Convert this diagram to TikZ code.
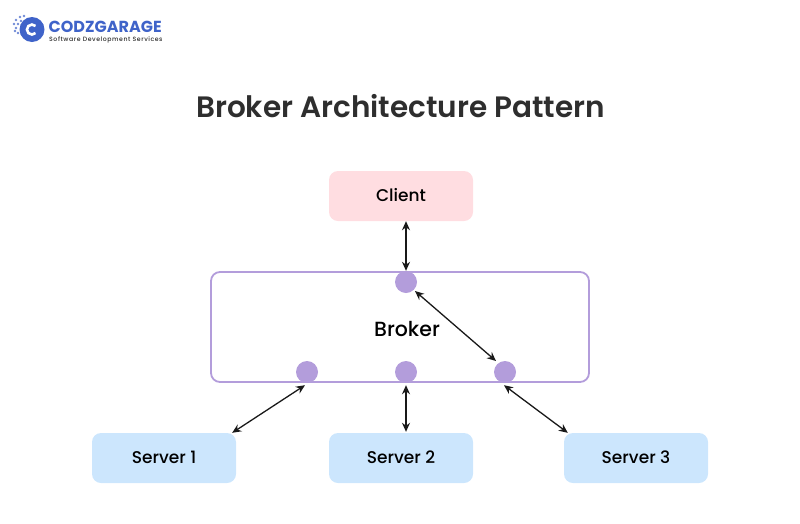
\documentclass[tikz,border=0pt]{standalone}
\usepackage{fontspec}
\setmainfont{Poppins}
\newfontfamily\labelfont{Poppins Medium}
\newfontfamily\titlefont{Poppins SemiBold}
\newfontfamily\tagfont[LetterSpace=9]{Poppins Medium}
\usetikzlibrary{arrows.meta}
\definecolor{logoblue}{HTML}{3F63C9}
\definecolor{inkgrey}{HTML}{2E2E2E}
\definecolor{clientpink}{HTML}{FFDDE1}
\definecolor{serverblue}{HTML}{CCE6FD}
\definecolor{brokerpurple}{HTML}{B39DDB}
\begin{document}
\begin{tikzpicture}[x=1pt, y=-1pt, node distance=99pt,
    box/.style = {rounded corners=9pt, minimum width=144pt, minimum height=50pt, inner sep=0pt, text height=12pt, text depth=2pt, font=\fontsize{17}{18}\labelfont},
    client/.style = {box, fill=clientpink},
    server/.style = {box, fill=serverblue},
    port/.style = {circle, fill=brokerpurple, minimum size=22pt, inner sep=0pt},
    link/.style = {{Stealth[length=9pt,width=8pt]}-{Stealth[length=9pt,width=8pt]}, line width=1.3pt, black!90}]
    \useasboundingbox (0,0) rectangle (800,523);
    % logo
    \node[circle, fill=logoblue, minimum size=25pt, inner sep=0pt] (logo) at (32,29.5) {};
    \draw[white, line width=2.6pt] (35.5,26) arc (45:315:5pt);
    \foreach \px/\py in {16/20, 20/17, 24/16, 14/24, 18/24, 16/28, 21/21, 18/33, 15/31}
        \fill[logoblue!75] (\px,\py) circle (1.3pt);
    \node[anchor=base west, inner sep=0pt, text depth=0pt, text=logoblue, font=\fontsize{16}{16}\bfseries] (brand) at (48.5,32.5) {CODZGARAGE};
    \node[anchor=base west, inner sep=0pt, text height=4.5pt, text=inkgrey, font=\fontsize{6.2}{6.2}\tagfont] (tagline) at (49,41) {Software Development Services};
    % title
    \node[text=inkgrey, inner sep=0pt, font=\fontsize{29.5}{32}\titlefont] (title) at (400.5,106) {Broker Architecture Pattern};
    % broker
    \node[draw=brokerpurple, line width=1.8pt, rounded corners=9pt, minimum width=378pt, minimum height=110pt, inner sep=0pt] (broker) at (400,327) {};
    \node[inner sep=0pt, font=\fontsize{20.5}{24}\labelfont] (label) at (407,329) {Broker};
    \node[port] (p0) at (406,282) {};
    \node[port] (p2) at (406,372) {};
    \node[port] (p1) [left of=p2] {};
    \node[port] (p3) [right of=p2] {};
    % client and servers
    \node[client] (c) at (401,196) {Client};
    \node[server] (s2) at (401,458) {Server 2};
    \node[server] (s1) at (164,458) {Server 1};
    \node[server] (s3) at (636,458) {Server 3};
    % connectors
    \draw[link] (c.south -| p0) -- (p0.north);
    \draw[link] ([xshift=9pt,yshift=-9pt]p0.center) -- ([xshift=-9pt,yshift=11pt]p3.center);
    \draw[link] ([xshift=-4pt]s1.north east) -- ([xshift=-2pt,yshift=-2pt]p1.south);
    \draw[link] ([yshift=-2pt]p2.south) -- ([yshift=1pt]s2.north -| p2);
    \draw[link] ([xshift=-1pt,yshift=-2pt]p3.south) -- ([xshift=4pt]s3.north west);
\end{tikzpicture}
\end{document}
